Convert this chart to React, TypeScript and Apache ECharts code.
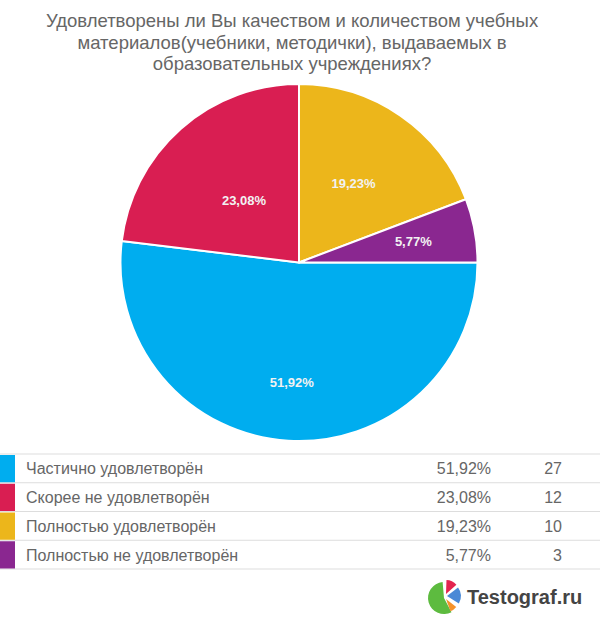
import React, { useEffect, useRef } from "react";
import * as echarts from "echarts";

const titleText =
  "Удовлетворены ли Вы качеством и количеством учебных\nматериалов(учебники, методички), выдаваемых в\nобразовательных учреждениях?";
const categories = [
  "Частично удовлетворён",
  "Скорее не удовлетворён",
  "Полностью удовлетворён",
  "Полностью не удовлетворён",
];
const counts = [27, 12, 10, 3];
const percentLabels = ["51,92%", "23,08%", "19,23%", "5,77%"];
const colors = ["#00ADEF", "#D91E52", "#ECB61B", "#8A2790"];
const labelRadiusFactor = [0.65, 0.45, 0.52, 0.63];

const FONT = "'Liberation Sans', Arial, sans-serif";

export default function App() {
  const ref = useRef<HTMLDivElement>(null);
  useEffect(() => {
    if (!ref.current) return;
    const chart = echarts.init(ref.current, null, { renderer: "svg" });
    const W = 600;
    const cx = 299;
    const cy = 262.5;
    const R = 178.5;

    const rowTop = 454;
    const rowH = 28.75;
    const graphics: any[] = [];
    for (let i = 0; i <= categories.length; i++) {
      graphics.push({
        type: "line",
        shape: { x1: 0, y1: rowTop + i * rowH, x2: W, y2: rowTop + i * rowH },
        style: { stroke: "#dddddd", lineWidth: 1 },
        silent: true,
      });
    }
    categories.forEach((c, i) => {
      const y0 = rowTop + i * rowH;
      graphics.push({
        type: "rect",
        shape: { x: 0, y: y0 + 1, width: 15, height: rowH - 1.5 },
        style: { fill: colors[i] },
      });
      const ym = y0 + rowH / 2 + 0.5;
      graphics.push({
        type: "text",
        x: 26,
        y: ym,
        style: {
          text: c,
          fill: "#666",
          font: `16px ${FONT}`,
          align: "left",
          verticalAlign: "middle",
        },
      });
      graphics.push({
        type: "text",
        x: 491,
        y: ym,
        style: {
          text: percentLabels[i],
          fill: "#666",
          font: `16px ${FONT}`,
          align: "right",
          verticalAlign: "middle",
        },
      });
      graphics.push({
        type: "text",
        x: 562,
        y: ym,
        style: {
          text: String(counts[i]),
          fill: "#666",
          font: `16px ${FONT}`,
          align: "right",
          verticalAlign: "middle",
        },
      });
    });

    // logo
    const lx = 445;
    const ly = 597;
    const d2r = Math.PI / 180;
    graphics.push({
      type: "sector",
      shape: { cx: lx - 1, cy: ly + 1, r: 16, r0: 0, startAngle: 62 * d2r, endAngle: 265 * d2r },
      style: { fill: "#5DBB3F" },
    });
    graphics.push({
      type: "sector",
      shape: { cx: lx + 1, cy: ly - 3, r: 14, r0: 0, startAngle: 272 * d2r, endAngle: 318 * d2r },
      style: { fill: "#E3244F" },
    });
    graphics.push({
      type: "sector",
      shape: { cx: lx + 2, cy: ly - 1, r: 14, r0: 0, startAngle: -38 * d2r, endAngle: 32 * d2r },
      style: { fill: "#4A89D6" },
    });
    graphics.push({
      type: "sector",
      shape: { cx: lx + 1, cy: ly + 2, r: 13, r0: 0, startAngle: 38 * d2r, endAngle: 70 * d2r },
      style: { fill: "#F5922B" },
    });
    graphics.push({
      type: "text",
      x: 467,
      y: 597,
      style: {
        text: "Testograf.ru",
        fill: "#444",
        font: `bold 20px ${FONT}`,
        align: "left",
        verticalAlign: "middle",
      },
    });

    chart.setOption({
      animation: false,
      title: {
        text: titleText,
        left: 287,
        top: 5,
        textAlign: "center",
        textStyle: {
          fontFamily: FONT,
          fontSize: 18.5,
          fontWeight: "normal",
          color: "#666",
          lineHeight: 21.5,
        },
      },
      graphic: graphics,
      series: [
        {
          type: "pie",
          center: [cx, cy],
          radius: R,
          startAngle: 0,
          clockwise: true,
          avoidLabelOverlap: false,
          itemStyle: { borderColor: "#fff", borderWidth: 2 },
          label: {
            show: true,
            position: "inside",
            formatter: (p: any) => percentLabels[p.dataIndex],
            color: "#f2f2f2",
            fontFamily: FONT,
            fontWeight: "bold",
            fontSize: 13,
          },
          labelLine: { show: false },
          emphasis: { disabled: true },
          labelLayout: (params: any) => {
            const r = params.labelRect;
            const lcx = r.x + r.width / 2;
            const lcy = r.y + r.height / 2;
            const k = labelRadiusFactor[params.dataIndex] / 0.5 - 1;
            return { dx: (lcx - cx) * k, dy: (lcy - cy) * k };
          },
          data: categories.map((c, i) => ({
            name: c,
            value: counts[i],
            itemStyle: { color: colors[i] },
          })),
        },
      ],
    });
    return () => chart.dispose();
  }, []);
  return (
    <div
      ref={ref}
      style={{ position: "fixed", left: 0, top: 0, width: 600, height: 623, background: "#fff" }}
    />
  );
}
